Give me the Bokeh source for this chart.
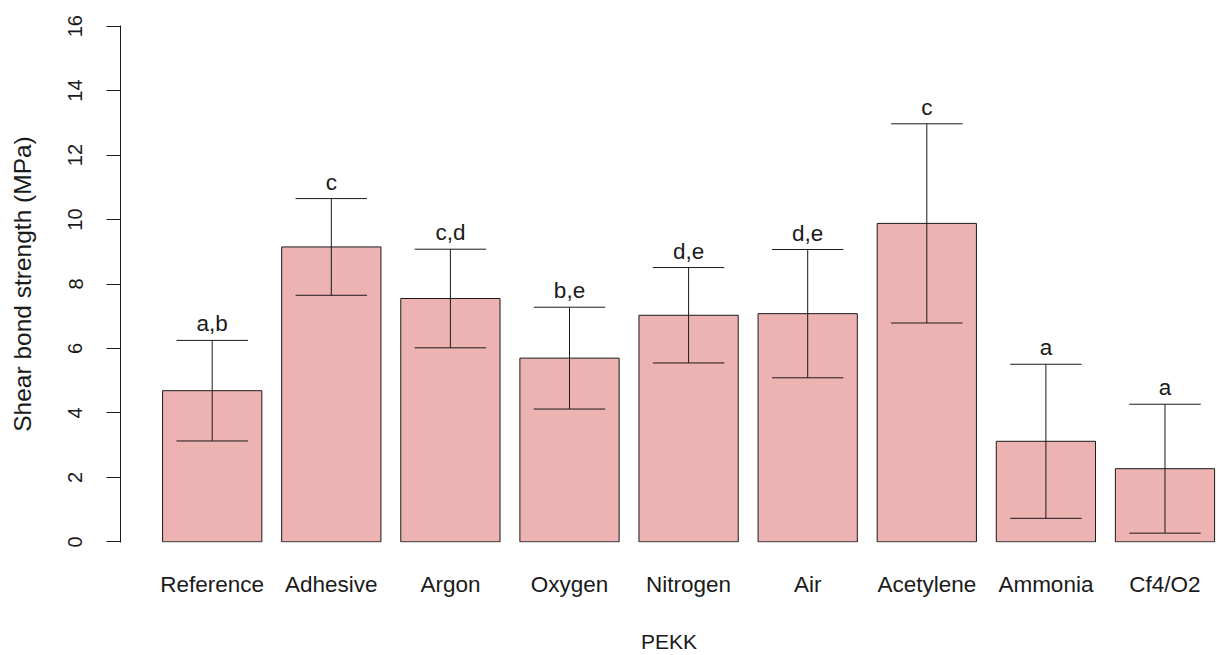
from bokeh.plotting import figure
from bokeh.models import Range1d, FixedTicker, ColumnDataSource
from bokeh.core.properties import value
from bokeh.embed import file_html
from bokeh.resources import INLINE

# ---- data ----
groups = ["Reference", "Adhesive", "Argon", "Oxygen", "Nitrogen", "Air",
          "Acetylene", "Ammonia", "Cf4/O2"]
means = [4.69, 9.15, 7.55, 5.70, 7.03, 7.08, 9.88, 3.12, 2.27]
sds = [1.56, 1.50, 1.53, 1.58, 1.48, 1.99, 3.09, 2.39, 2.00]
letters = ["a,b", "c", "c,d", "b,e", "d,e", "d,e", "c", "a", "a"]
y_ticks = [0, 2, 4, 6, 8, 10, 12, 14, 16]
y_title = "Shear bond strength (MPa)"
x_title = "PEKK"

# ---- layout helpers (R barplot style: width 1, space 0.2) ----
BAR_W = 1.0
SPACE = 0.2
CAP = 0.36
xs = [SPACE + BAR_W / 2 + i * (BAR_W + SPACE) for i in range(len(groups))]
upper = [m + s for m, s in zip(means, sds)]
lower = [m - s for m, s in zip(means, sds)]

src = ColumnDataSource(dict(
    x=xs, top=means, up=upper, lo=lower,
    cl=[x - CAP for x in xs], cr=[x + CAP for x in xs], lab=letters,
))

FONT = "Liberation Sans"
INK = "#1a1a1a"

p = figure(width=1217, height=655, output_backend="svg", toolbar_location=None,
           x_range=Range1d(-0.224, 10.829), y_range=Range1d(-0.02, 16.02),
           min_border_left=120, min_border_right=0, min_border_top=25,
           min_border_bottom=112)
p.outline_line_color = None
p.xgrid.visible = False
p.ygrid.visible = False
p.background_fill_color = "white"
p.border_fill_color = "white"

p.vbar(x="x", top="top", bottom=0, width=BAR_W, source=src,
       fill_color="#ECB3B2", line_color=INK, line_width=1)
p.segment(x0="x", x1="x", y0="lo", y1="up", source=src, line_color=INK, line_width=1)
p.segment(x0="cl", x1="cr", y0="up", y1="up", source=src, line_color=INK, line_width=1)
p.segment(x0="cl", x1="cr", y0="lo", y1="lo", source=src, line_color=INK, line_width=1)
p.text(x="x", y="up", text="lab", source=src, text_align="center",
       text_baseline="bottom", y_offset=-4, text_font=value(FONT),
       text_font_size="22.5px", text_color=INK)

# y axis
ya = p.yaxis[0]
ya.ticker = FixedTicker(ticks=y_ticks)
ya.minor_tick_line_color = None
ya.major_tick_in = 0
ya.major_tick_out = 14
ya.major_label_orientation = "vertical"
ya.major_label_standoff = 24
ya.major_label_text_font = FONT
ya.major_label_text_font_size = "20px"
ya.major_label_text_color = INK
ya.axis_line_color = INK
ya.major_tick_line_color = INK
ya.axis_label = y_title
ya.axis_label_text_font = FONT
ya.axis_label_text_font_size = "24.5px"
ya.axis_label_text_font_style = "normal"
ya.axis_label_text_color = INK
ya.axis_label_standoff = 30

# x axis
xa = p.xaxis[0]
xa.ticker = FixedTicker(ticks=xs)
xa.major_label_overrides = {x: g for x, g in zip(xs, groups)}
xa.minor_tick_line_color = None
xa.major_tick_line_color = None
xa.major_tick_in = 0
xa.major_tick_out = 0
xa.axis_line_color = None
xa.major_label_standoff = 29
xa.major_label_text_font = FONT
xa.major_label_text_font_size = "22.5px"
xa.major_label_text_color = INK
xa.axis_label = x_title
xa.axis_label_text_font = FONT
xa.axis_label_text_font_size = "21px"
xa.axis_label_text_font_style = "normal"
xa.axis_label_text_color = INK
xa.axis_label_standoff = 30

open("out.html", "w").write(file_html(p, INLINE))
